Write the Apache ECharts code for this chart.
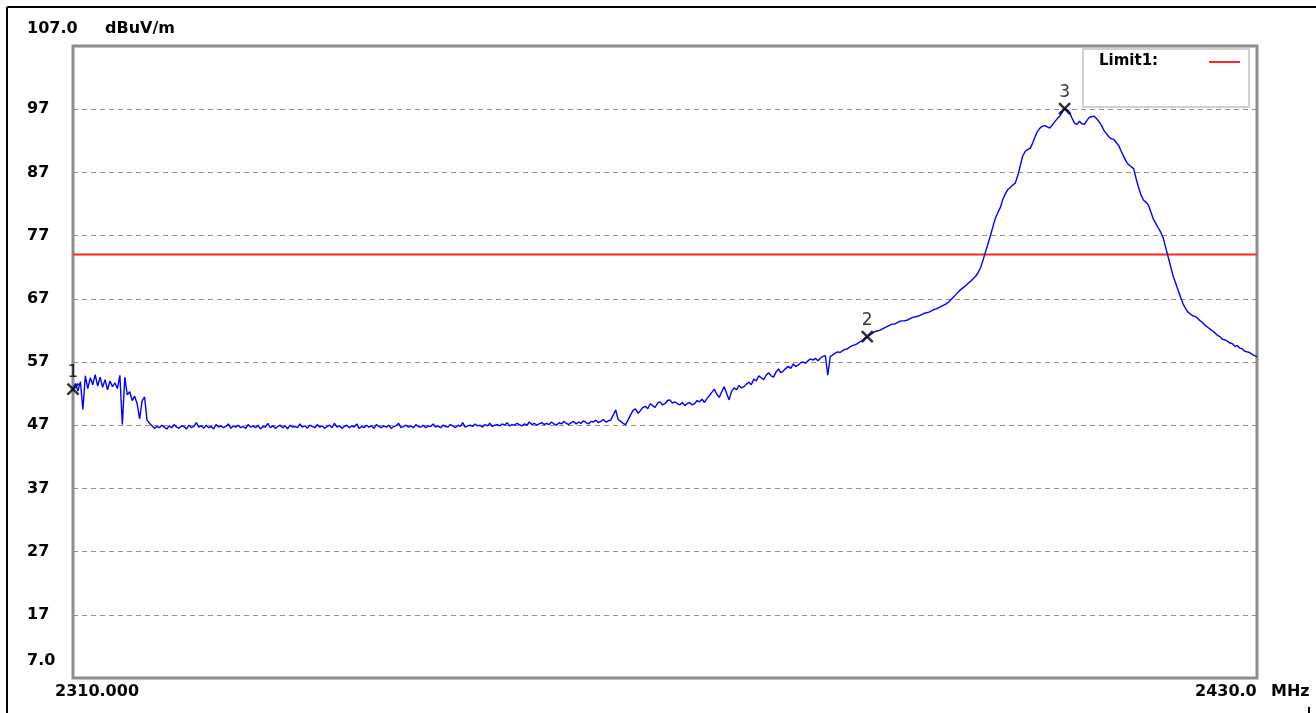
<!DOCTYPE html>
<html>
<head>
<meta charset="utf-8">
<script src="https://cdn.jsdelivr.net/npm/echarts@6/dist/echarts.min.js"></script>
<style>
html,body{margin:0;padding:0;background:#fff;}
#chart{width:1316px;height:713px;}
</style>
</head>
<body>
<div id="chart"></div>
<script>
// Sweep: 2310.0 .. 2430.0 MHz, one reading every 0.25 MHz
const freqStart = 2310;
const freqStep = 0.25;
const levels = [
  // 2310 .. 2317.75 MHz
  52.7, 53.6, 52.4, 53.9, 49.5, 54.8, 52.8, 54.5, 53.4, 55.0,
  53.2, 54.6, 53.0, 54.2, 52.6, 54.0, 53.1, 53.7, 52.8, 54.9,
  47.1, 54.6, 51.8, 52.3, 50.9, 51.6, 50.4, 48.0, 50.8, 51.5, 47.8, 47.3,
  // 2318 .. 2364.25 MHz (flat floor)
  46.9, 46.5, 46.8, 46.6, 47.0, 46.7, 46.4, 46.9, 46.6, 47.1,
  46.7, 46.5, 46.9, 46.8, 46.4, 47.0, 46.6, 46.8, 47.4, 46.7,
  46.9, 46.5, 47.0, 46.6, 46.8, 46.4, 47.1, 46.7, 46.9, 46.6,
  46.8, 47.2, 46.5, 46.9, 46.7, 47.0, 46.6, 46.8, 46.5, 47.1,
  46.7, 46.9, 46.6, 47.0, 46.4, 46.8, 46.7, 47.3, 46.6, 46.9,
  46.5, 46.8, 47.0, 46.6, 46.9, 46.4, 47.0, 46.7, 46.8, 46.6,
  47.2, 46.7, 46.9, 46.5, 47.0, 46.8, 46.6, 47.1, 46.7, 46.9,
  46.5, 46.8, 47.0, 46.6, 47.3, 46.7, 46.9, 46.5, 46.8, 47.0,
  46.6, 46.9, 46.7, 47.2, 46.5, 46.8, 46.6, 47.0, 46.7, 46.9,
  46.5, 47.1, 46.8, 46.6, 46.9, 46.7, 47.0, 46.5, 46.8, 46.9,
  47.3, 46.6, 46.8, 47.0, 46.7, 46.9, 46.6, 47.1, 46.8, 46.7,
  47.0, 46.6, 46.9, 46.8, 47.2, 46.7, 46.9, 46.6, 47.0, 46.8,
  46.7, 47.1, 46.9, 46.6, 47.0, 46.8, 47.4, 46.7, 46.9, 47.0,
  46.8, 47.2, 46.9, 47.0, 46.7, 47.1, 46.9, 47.3, 46.8, 47.0,
  47.1, 46.9, 47.2, 47.0, 47.4, 46.9, 47.1, 47.0, 47.3, 47.1,
  46.9, 47.2, 47.0, 47.5, 47.1, 47.3, 47.0, 47.2, 47.4, 47.1,
  47.3, 47.1, 47.5, 47.2, 47.0, 47.4, 47.2, 47.6, 47.3, 47.1,
  47.4, 47.6, 47.2, 47.5, 47.3, 47.7, 47.4, 47.2, 47.6, 47.5,
  47.8, 47.4, 47.6, 47.9, 47.5, 47.7,
  // 2364.5 .. 2430 MHz (rise, peak, fall)
  47.8, 48.6, 49.4, 47.9, 47.6, 47.3, 47.1, 47.8, 48.6, 49.3,
  49.6, 48.9, 49.3, 49.8, 50.0, 49.6, 50.4, 50.1, 49.8, 50.5,
  50.7, 50.2, 50.4, 50.9, 51.0, 50.5, 50.7, 50.4, 50.2, 50.6,
  50.1, 50.4, 50.6, 50.2, 50.4, 50.9, 50.7, 51.1, 50.6, 51.2,
  51.7, 52.2, 52.7, 51.9, 51.4, 52.3, 53.1, 52.0, 51.0, 52.4,
  52.9, 52.6, 53.3, 52.9, 53.1, 53.5, 53.8, 53.4, 54.3, 54.0,
  54.8, 54.5, 54.2, 54.9, 55.3, 54.8, 54.6, 55.4, 55.9, 55.3,
  55.6, 56.0, 56.3, 56.0, 56.7, 56.3, 56.5, 56.9, 57.0, 56.8,
  57.2, 57.5, 57.3, 57.6, 57.2, 57.6, 57.9, 58.0, 54.9, 57.9,
  58.1, 58.4, 58.6, 58.5, 58.8, 59.0, 59.1, 59.4, 59.6, 59.7,
  59.9, 60.2, 60.4, 60.8, 61.0, 61.3, 61.5, 61.8, 61.9, 62.0,
  62.2, 62.4, 62.6, 62.8, 63.0, 63.0, 63.2, 63.4, 63.5, 63.5,
  63.6, 63.8, 64.0, 64.1, 64.2, 64.3, 64.5, 64.7, 64.8, 64.9,
  65.1, 65.3, 65.4, 65.6, 65.8, 66.0, 66.2, 66.5, 66.9, 67.3,
  67.7, 68.1, 68.5, 68.8, 69.1, 69.5, 69.8, 70.2, 70.6, 71.2,
  72.0, 73.2, 74.5, 75.8, 77.1, 78.5, 79.8, 80.7, 81.5, 82.8,
  83.6, 84.3, 84.6, 85.0, 85.3, 86.5, 88.0, 89.6, 90.3, 90.6,
  90.8, 91.6, 92.6, 93.5, 94.0, 94.3, 94.4, 94.2, 94.0, 94.5,
  95.0, 95.5, 95.9, 96.5, 97.1, 96.9, 96.5, 95.6, 94.8, 94.6,
  95.1, 94.7, 94.6, 95.2, 95.7, 95.8, 95.9, 95.5, 95.0, 94.4,
  93.6, 93.1, 92.6, 92.3, 92.2, 91.7, 91.2, 90.3, 89.5, 88.7,
  88.2, 87.9, 87.6, 86.0, 84.6, 83.4, 82.6, 82.3, 81.8, 80.7,
  79.6, 78.9, 78.2, 77.5, 76.6, 75.1, 73.6, 72.1, 70.6, 69.5,
  68.4, 67.3, 66.2, 65.5, 64.9, 64.6, 64.3, 64.2, 63.9, 63.5,
  63.2, 62.8, 62.5, 62.2, 61.9, 61.6, 61.2, 61.0, 60.6, 60.5,
  60.3, 60.0, 59.9, 59.5, 59.6, 59.2, 59.1, 58.7, 58.6, 58.5,
  58.2, 58.0, 57.8
];
const limitFreq = [2310, 2430];
const limitLevel = [74, 74];
const markerFreq = [2310, 2390.5, 2410.5];
const markerLevel = [52.7, 61.0, 97.1];
const markerLabel = ['1', '2', '3'];
const yMin = 7, yMax = 107, yStep = 10;
const xMin = 2310, xMax = 2430;
const yTopLabel = '107.0', yBottomLabel = '7.0', yUnit = 'dBuV/m';
const xLeftLabel = '2310.000', xRightLabel = '2430.0', xUnit = 'MHz';
const legendName = 'Limit1:';

const FONT = '"DejaVu Sans", "Liberation Sans", Arial, sans-serif';
const chart = echarts.init(document.getElementById('chart'), null, {renderer: 'canvas'});

const traceData = levels.map((v, i) => [freqStart + i * freqStep, v]);
const limitData = limitFreq.map((f, i) => [f, limitLevel[i]]);
const markerData = markerFreq.map((f, i) => ({value: [f, markerLevel[i]], name: markerLabel[i]}));

function txt(x, y, text, opts) {
  return {
    type: 'text', x: x, y: y, z: 20,
    style: Object.assign({
      text: text, fill: '#000', font: 'bold 16px ' + FONT,
      align: 'left', verticalAlign: 'middle'
    }, opts || {})
  };
}

chart.setOption({
  animation: false,
  backgroundColor: '#fff',
  grid: {
    left: 73, top: 46, right: 59, bottom: 35,
    show: true, borderColor: '#8c8c8c', borderWidth: 3, backgroundColor: 'transparent'
  },
  xAxis: {
    type: 'value', min: xMin, max: xMax,
    axisLine: {show: false}, axisTick: {show: false},
    axisLabel: {show: false}, splitLine: {show: false}
  },
  yAxis: {
    type: 'value', min: yMin, max: yMax, interval: yStep,
    axisLine: {show: false}, axisTick: {show: false},
    axisLabel: {
      show: true, align: 'left', margin: 46,
      fontFamily: FONT, fontWeight: 'bold', fontSize: 16, color: '#000',
      padding: [0, 0, 4, 0],
      formatter: v => (v === yMin || v === yMax) ? '' : String(v)
    },
    splitLine: {show: true, lineStyle: {color: '#909090', width: 1, type: [5, 4]}}
  },
  series: [
    {
      name: 'Limit1', type: 'line', data: limitData, showSymbol: false, z: 2,
      lineStyle: {color: '#ff2424', width: 2}, silent: true
    },
    {
      name: 'trace', type: 'line', data: traceData, showSymbol: false, z: 3,
      lineStyle: {color: '#0000ff', width: 1.4}, silent: true
    },
    {
      name: 'markers', type: 'scatter', data: markerData, z: 6, clip: false,
      symbol: 'path://M0,0L10,10M10,0L0,10', symbolSize: 11,
      itemStyle: {color: 'rgba(0,0,0,0)', borderColor: '#000', borderWidth: 2.5},
      label: {
        show: true, position: 'top', distance: 1,
        formatter: p => p.name, color: '#000', fontFamily: FONT, fontSize: 17
      },
      silent: true
    }
  ],
  graphic: [
    {type: 'line', z: 20, shape: {x1: 7, y1: 7, x2: 1316, y2: 7}, style: {stroke: '#000', lineWidth: 2}},
    {type: 'line', z: 20, shape: {x1: 7, y1: 7, x2: 7, y2: 713}, style: {stroke: '#000', lineWidth: 2}},
    {type: 'line', z: 20, shape: {x1: 1309, y1: 707, x2: 1309, y2: 713}, style: {stroke: '#000', lineWidth: 2}},
    txt(27, 29, yTopLabel),
    txt(105, 29, yUnit),
    txt(27, 661, yBottomLabel),
    txt(55, 692, xLeftLabel),
    txt(1195, 692, xRightLabel),
    txt(1271, 692, xUnit),
    {type: 'rect', z: 15, shape: {x: 1083, y: 49, width: 166, height: 58},
     style: {fill: '#fff', stroke: '#d4d0c8', lineWidth: 2}},
    txt(1099, 61, legendName, {font: 'bold 15px ' + FONT}),
    {type: 'line', z: 20, shape: {x1: 1209, y1: 62, x2: 1240, y2: 62}, style: {stroke: '#ff2424', lineWidth: 2}}
  ]
});
</script>
</body>
</html>
